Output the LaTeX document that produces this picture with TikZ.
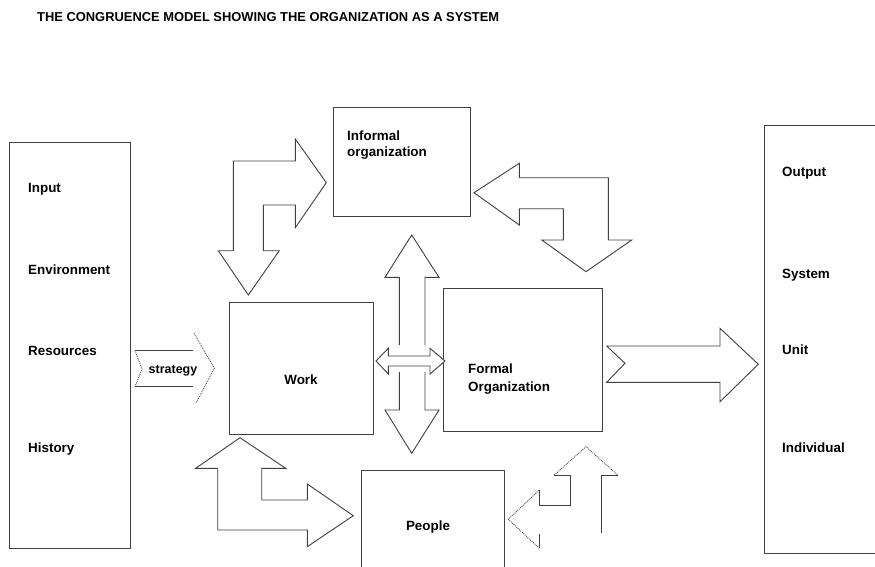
\documentclass[tikz,border=0pt]{standalone}
\usepackage{fontspec}
\setmainfont{Liberation Sans}
\begin{document}
\begin{tikzpicture}[x=1pt,y=-1pt,
  boxframe/.style={draw=black!75, line width=0.9pt, inner sep=0pt, fill=white},
  blockarrow/.style={draw=black!75, line width=0.9pt, fill=white, line join=miter},
  arrowline/.style={draw=black!75, line width=0.9pt},
  dotline/.style={draw=black!70, line width=0.9pt, densely dotted},
  lbl/.style={font=\fontsize{13.4}{16}\selectfont\bfseries, inner sep=0pt, anchor=base west},
  clbl/.style={font=\fontsize{13.4}{16}\selectfont\bfseries, inner sep=0pt, anchor=base}]
\clip (0,0) rectangle (875,567);
\fill[white] (0,0) rectangle (875,567);

% title
\node[font=\fontsize{12.9}{15}\selectfont\bfseries, inner sep=0pt, anchor=base west] (title) at (37,22)
  {THE CONGRUENCE MODEL SHOWING THE ORGANIZATION AS A SYSTEM};

% boxes
\node[boxframe, minimum width=121pt, minimum height=406pt] (inbox) at (69.5,345) {};
\node[boxframe, minimum width=137pt, minimum height=109pt] (informal) at (401.5,161.5) {};
\node[boxframe, minimum width=144pt, minimum height=132pt] (work) at (301,368) {};
\node[boxframe, minimum width=159pt, minimum height=143pt] (formal) at (522.5,359.5) {};
\node[boxframe, minimum width=143pt, minimum height=120pt] (people) at (432.5,530) {};
\node[boxframe, minimum width=126pt, minimum height=428pt] (outbox) at (827,339) {};

% input side
\node[lbl] (input) at (28,192) {Input};
\node[lbl] (environment) at (28,274) {Environment};
\node[lbl] (resources) at (28,355) {Resources};
\node[lbl] (history) at (28,452) {History};

% output side
\node[lbl] (output) at (782,176) {Output};
\node[lbl] (system) at (782,278) {System};
\node[lbl] (unit) at (782,354) {Unit};
\node[lbl] (individual) at (782,452) {Individual};

% box texts
\node[lbl] (informal1) at (347,140) {Informal};
\node[lbl] (informal2) at (347,157) {organization};
\node[clbl] (worktext) at (301,384) {Work};
\node[lbl] (formal1) at (468,373) {Formal};
\node[lbl] (formal2) at (468,391) {Organization};
\node[clbl] (peopletext) at (428,530) {People};

% work <-> informal organization
\draw[blockarrow] (233.3,250.7) -- (218.3,250.7) -- (248.3,295) -- (279.3,250.7)
  -- (263.3,250.7) -- (263.3,205) -- (295.3,205) -- (295.3,227.7) -- (326.3,182.7)
  -- (295.3,139) -- (295.3,161) -- (233.3,161) -- cycle;

% informal organization <-> formal organization
\draw[blockarrow] (474,192.7) -- (519.3,163.3) -- (519.3,177.7) -- (608.3,177.7)
  -- (608.3,240) -- (631.7,240) -- (586,271.7) -- (541.7,240) -- (563.3,240)
  -- (563.3,208.7) -- (519.3,208.7) -- (519.3,225) -- cycle;

% vertical double arrow between informal organization and people
\draw[arrowline, line join=miter] (399.3,345) -- (399.3,277.3) -- (385,277.3) -- (411.7,235)
  -- (439,277.3) -- (425,277.3) -- (425,345);
\draw[arrowline, line join=miter] (399.3,372) -- (399.3,410) -- (385,410) -- (411.7,453.3)
  -- (439,410) -- (425,410) -- (425,372);

% horizontal double arrow between work and formal organization
\draw[blockarrow] (376,361) -- (388.3,348.3) -- (388.3,356) -- (430,356) -- (430,348.3)
  -- (445,361) -- (430,374) -- (430,366) -- (388.3,366) -- (388.3,374) -- cycle;

% strategy arrow
\draw[arrowline] (135,350.7) -- (193.3,350.7);
\draw[arrowline] (135,386.7) -- (193.3,386.7);
\draw[dotline] (135,350.7) -- (142,369) -- (135,386.7);
\draw[dotline] (194,333.3) -- (214.3,368.3) -- (196,403);
\node[font=\fontsize{12.5}{15}\selectfont\bfseries, inner sep=0pt, anchor=base] (strategy) at (173,373) {strategy};

% output arrow
\draw[blockarrow] (606.7,346) -- (720,346) -- (720,328.3) -- (758.3,364.3) -- (720,401.7)
  -- (720,382.3) -- (606.7,382.3) -- (625,363.3) -- cycle;

% work <-> people
\draw[blockarrow] (217.7,468.3) -- (195.7,468.3) -- (240,437.7) -- (285.7,468.3)
  -- (261.7,468.3) -- (261.7,500) -- (307.3,500) -- (307.3,484) -- (353.3,515.7)
  -- (307.3,546.7) -- (307.3,530) -- (217.7,530) -- cycle;

% people <-> formal organization
\draw[arrowline] (539.3,534) -- (539.3,548.3);
\draw[dotline] (539.3,548.3) -- (508.3,519.3) -- (539.3,490);
\draw[arrowline] (539.3,490) -- (539.3,505) -- (570.7,505) -- (570.7,475) -- (554.3,475);
\draw[dotline] (554.3,475) -- (586,446.7) -- (617.7,475);
\draw[arrowline] (617.7,475) -- (601,475) -- (601,533.3);
\end{tikzpicture}
\end{document}
